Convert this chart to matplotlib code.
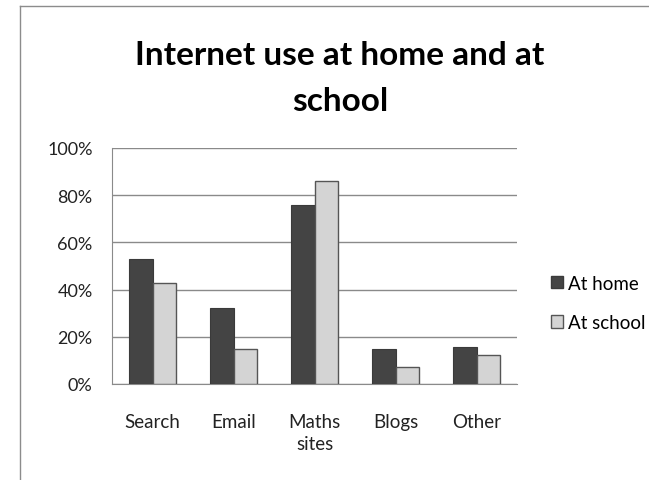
import matplotlib
matplotlib.use("Agg")
import matplotlib.pyplot as plt
from matplotlib.lines import Line2D
from matplotlib.patches import Patch
import numpy as np

categories = ["Search", "Email", "Maths\nsites", "Blogs", "Other"]
at_home = [53, 32, 76, 15, 15.5]
at_school = [43, 15, 86, 7, 12.5]
series_names = ["At home", "At school"]
y_ticks = [0, 20, 40, 60, 80, 100]
y_tick_labels = ["0%", "20%", "40%", "60%", "80%", "100%"]
title = "Internet use at home and at\nschool"

plt.rcParams["font.family"] = ["Lato", "DejaVu Sans"]

W, H = 649, 481
fig = plt.figure(figsize=(W / 100, H / 100), dpi=100)
fig.patch.set_facecolor("white")

# chart frame (only left and top edges fall inside the image)
fx, fy = 20 / W, 1 - 7 / H
fig.add_artist(Line2D([fx, fx], [0, fy], transform=fig.transFigure, color="#8c8c8c", lw=1))
fig.add_artist(Line2D([fx, 1], [fy, fy], transform=fig.transFigure, color="#8c8c8c", lw=1))

ax = fig.add_axes([112 / W, 96 / H, 405 / W, 236 / H])

x = np.arange(len(categories))
bw = 1 / 3.5
dark = "#444444"
light = "#d4d4d4"
ax.bar(x - bw / 2, at_home, bw, color=dark, edgecolor="#3a3a3a", lw=0.8, zorder=3)
ax.bar(x + bw / 2, at_school, bw, color=light, edgecolor="#555555", lw=1.0, zorder=3)

ax.set_xlim(-0.5, len(categories) - 0.5)
ax.set_ylim(0, 100)
ax.set_yticks(y_ticks)
ax.set_yticklabels(y_tick_labels)
ax.set_xticks(x)
ax.set_xticklabels(categories, linespacing=1.35)
ax.tick_params(axis="both", length=0, colors="#222222")
ax.tick_params(axis="y", pad=14, labelsize=13)
ax.tick_params(axis="x", pad=21, labelsize=13.5)

ax.grid(axis="y", color="#8a8a8a", lw=1, zorder=0)
for side in ["top", "right"]:
    ax.spines[side].set_visible(False)
ax.spines["left"].set_color("#8a8a8a")
ax.spines["bottom"].set_color("#8a8a8a")

# title: the y position is the baseline of the second line
fig.text(340 / W, 1 - 111 / H, title, ha="center", va="baseline",
         fontsize=24, fontweight="bold", linespacing=1.69, color="#000000")

handles = [Patch(facecolor=dark, edgecolor="#3a3a3a"),
           Patch(facecolor=light, edgecolor="#555555")]
fig.legend(handles, series_names, loc="center left",
           bbox_to_anchor=(551 / W, 1 - 304 / H), frameon=False,
           borderpad=0, borderaxespad=0,
           fontsize=13.5, handlelength=0.64, handleheight=0.64,
           handletextpad=0.27, labelspacing=1.2)

fig.savefig("out.png", dpi=100)
